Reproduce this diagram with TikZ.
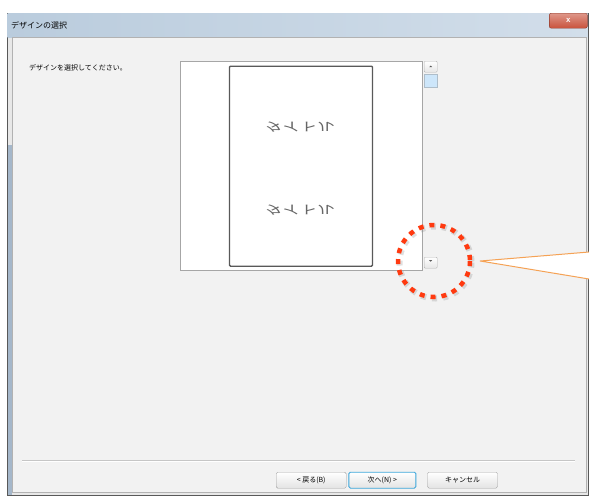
\documentclass[tikz,border=0pt]{standalone}
\usepackage{fontspec}
\newfontfamily\jpfont{Noto Sans CJK JP}
\usepackage{xcolor}
\usetikzlibrary{positioning, shapes}

\definecolor{winbg}{HTML}{F2F2F2}
\definecolor{frameblue}{HTML}{A5B7CA}
\definecolor{titlea}{HTML}{BACCDD}
\definecolor{titleb}{HTML}{D2DEEA}
\definecolor{closered}{HTML}{C9523C}
\definecolor{markred}{HTML}{FF3A10}
\definecolor{callout}{HTML}{F5A255}
\definecolor{thumbblue}{HTML}{CDE6FA}
\definecolor{okblue}{HTML}{3CA6DA}

\tikzset{
  jsmall/.style={font=\jpfont\fontsize{7}{8}\selectfont, inner sep=0pt},
  pagetitle/.style={font=\jpfont\fontsize{12}{13}\selectfont, inner sep=0pt,
    yscale=-1, xscale=1.45, text=gray!80!black},
  winbutton/.style={draw=gray!75, rounded corners=1.5pt, top color=white,
    bottom color=gray!22, minimum width=70pt, minimum height=16pt,
    inner sep=0pt, font=\jpfont\fontsize{7}{8}\selectfont},
  scrollbtn/.style={draw=gray!60, rounded corners=1pt, top color=white,
    bottom color=gray!20, minimum width=13pt, minimum height=11pt, inner sep=0pt},
}

\begin{document}
\begin{tikzpicture}[x=1pt, y=-1pt]
  \useasboundingbox (0,0) rectangle (589,496);
  \fill [white] (0,0) rectangle (589,496);

  %% Fenster
  \draw [fill=gray!18, draw=gray!70!black] (7,13) rectangle (588,495);
  \fill [frameblue] (7.5,145) rectangle (12,494.5);
  \shade [left color=titlea, right color=titleb] (7.5,13.5) rectangle (587.5,37);
  \node [jsmall, font=\jpfont\fontsize{8}{9}\selectfont, anchor=west] (wintitle)
    at (11,25) {デザインの選択};
  \node [draw=closered!70!black, rounded corners=2pt, top color=closered!60,
    bottom color=closered, minimum width=38pt, minimum height=15pt, inner sep=0pt,
    anchor=north east, text=white, font=\sffamily\bfseries\small] (close)
    at (587.5,13) {x};
  \draw [fill=winbg, draw=gray!60] (12,37) rectangle (586,492);

  %% Auswahl
  \node [jsmall, anchor=north west] (prompt) at (29,64) {デザインを選択してください。};

  \node [draw=gray!70, fill=white, minimum width=242pt, minimum height=209pt,
    inner sep=0pt, anchor=north west] (preview) at (180,61) {};
  \node [draw=gray!70!black, line width=1.4pt, fill=white, rounded corners=1pt,
    minimum width=143pt, minimum height=200pt, inner sep=0pt,
    anchor=north] (page) at (301,65.5) {};
  \node [pagetitle] (title1) at (300,127) {タイトル};
  \node [pagetitle] (title2) at (300,210) {タイトル};

  %% Rollbalken
  \node [scrollbtn, anchor=north west] (up) at (424,61) {};
  \fill [gray!70!black] ([yshift=1pt]up.center) -- ++(-1.5,1.5) -- ++(3,0) -- cycle;
  \node [draw=thumbblue!60!gray, fill=thumbblue, minimum width=13pt,
    minimum height=13pt, inner sep=0pt, anchor=north] (thumb) at ([yshift=-1.5pt]up.south) {};
  \node [scrollbtn, anchor=north west] (down) at (424,257) {};
  \fill [gray!70!black] ([yshift=1pt]down.center) -- ++(-1.5,-1.5) -- ++(3,0) -- cycle;

  %% Markierung
  \node [circle, minimum size=72pt, inner sep=0pt] (mark) at (434,261) {};
  \draw [gray, opacity=0.25, line width=6pt, dash pattern=on 5pt off 6pt]
    ([shift={(1.5,1.5)}]mark.center) circle (36);
  \draw [markred, line width=4.5pt, dash pattern=on 5pt off 6pt]
    (mark.center) circle (36);
  \coordinate [right=10pt of mark.east] (tip);
  \coordinate (edgetop) at (589,252);
  \coordinate (edgebot) at (589,279);
  \filldraw [fill=white, draw=callout, line width=1pt, line join=round]
    (edgetop) -- (tip) -- (edgebot);

  %% Knoepfe
  \draw [gray!45] (22,460.5) -- (575,460.5);
  \draw [white] (22,461.5) -- (575,461.5);
  \node [winbutton, anchor=north west] (back) at (276,472) {\textless{} 戻る(B)};
  \node [winbutton, draw=okblue, line width=0.9pt, minimum width=67pt,
    right=2pt of back] (next) {次へ(N) \textgreater};
  \node [winbutton, right=11pt of next] (cancel) {キャンセル};
\end{tikzpicture}
\end{document}
